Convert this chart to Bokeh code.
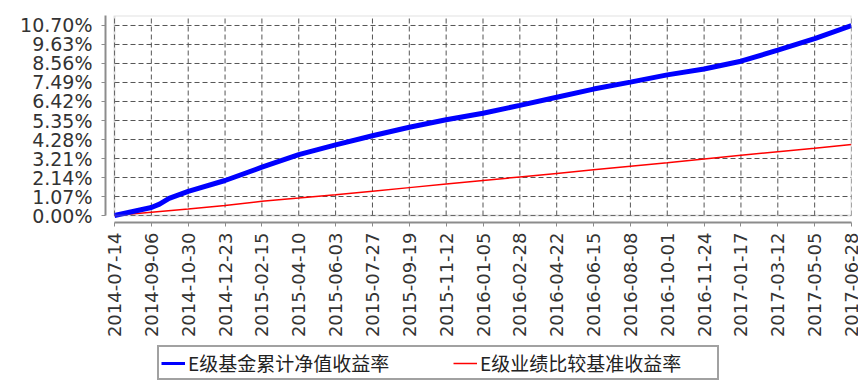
import math
import numpy as np
from bokeh.plotting import figure
from bokeh.layouts import column
from bokeh.models import (FixedTicker, PrintfTickFormatter, DatetimeTickFormatter,
                          Range1d, BoxAnnotation, Legend, LegendItem)
from bokeh.embed import file_html
from bokeh.resources import INLINE

# ---------------- data ----------------
tick_dates = ["2014-07-14", "2014-09-06", "2014-10-30", "2014-12-23", "2015-02-15",
              "2015-04-10", "2015-06-03", "2015-07-27", "2015-09-19", "2015-11-12",
              "2016-01-05", "2016-02-28", "2016-04-22", "2016-06-15", "2016-08-08",
              "2016-10-01", "2016-11-24", "2017-01-17", "2017-03-12", "2017-05-05",
              "2017-06-28"]
y_ticks = [0.00, 1.07, 2.14, 3.21, 4.28, 5.35, 6.42, 7.49, 8.56, 9.63, 10.70]

fund_dates = ["2014-07-14", "2014-09-06", "2014-09-18", "2014-10-02", "2014-10-30",
              "2014-12-23", "2015-02-15", "2015-04-10", "2015-06-03", "2015-07-27",
              "2015-09-19", "2015-11-12", "2016-01-05", "2016-02-28", "2016-04-22",
              "2016-06-15", "2016-08-08", "2016-10-01", "2016-11-24", "2017-01-17",
              "2017-03-12", "2017-05-05", "2017-06-28"]
fund_ret = [0.00, 0.45, 0.64, 0.96, 1.36, 1.97, 2.72, 3.43, 3.98, 4.49, 4.97, 5.39,
            5.76, 6.20, 6.66, 7.12, 7.51, 7.92, 8.25, 8.69, 9.31, 9.96, 10.70]

bench_dates = tick_dates
bench_ret = [0.00, 0.19, 0.36, 0.57, 0.80, 0.98, 1.17, 1.37, 1.57, 1.77, 1.97,
             2.17, 2.37, 2.57, 2.77, 2.97, 3.18, 3.39, 3.59, 3.79, 4.00]

fund_label = "E级基金累计净值收益率"
bench_label = "E级业绩比较基准收益率"

FUND_COLOR = "#0000ff"
BENCH_COLOR = "#ff0000"


def to_ms(ds):
    return np.array(ds, dtype="datetime64[ms]").astype("int64").astype(float)


tick_ms = to_ms(tick_dates)
fund_ms = to_ms(fund_dates)
bench_ms = to_ms(bench_dates)

DAY = 86400000.0
x0, x1 = tick_ms[0], tick_ms[-1]
x_start = x0 - 13.2 * DAY
y_end = y_ticks[-1] + 0.563
y_start = -0.394

p = figure(width=858, height=345, x_axis_type="datetime",
           x_range=Range1d(x_start, x1), y_range=Range1d(y_start, y_end),
           output_backend="svg", toolbar_location=None,
           min_border_left=105, min_border_right=7, min_border_top=15,
           min_border_bottom=123)
p.outline_line_color = None
p.background_fill_color = "white"
p.border_fill_color = "white"
p.xgrid.visible = False
p.ygrid.visible = False

# grid lines restricted to the inner box
grid_color = "#555555"
p.segment(x0=tick_ms, y0=[0] * len(tick_ms), x1=tick_ms, y1=[y_end] * len(tick_ms),
          line_color=grid_color, line_width=1, line_dash="5 3")
p.segment(x0=[x0] * len(y_ticks), y0=y_ticks, x1=[x1] * len(y_ticks), y1=y_ticks,
          line_color=grid_color, line_width=1, line_dash="5 3")

p.line(bench_ms, bench_ret, line_color=BENCH_COLOR, line_width=1.5)
p.line(fund_ms, fund_ret, line_color=FUND_COLOR, line_width=5)

box = BoxAnnotation(left=x0, right=x1, bottom=0, fill_alpha=0,
                    line_color="#999999", line_width=2)
p.add_layout(box)

axis_color = "#8c8c8c"
label_color = "#333333"

xa = p.xaxis[0]
xa.ticker = FixedTicker(ticks=list(tick_ms))
fmt = "%Y-%m-%d"
xa.formatter = DatetimeTickFormatter(milliseconds=fmt, seconds=fmt, minsec=fmt,
                                     minutes=fmt, hourmin=fmt, hours=fmt, days=fmt,
                                     months=fmt, years=fmt)
xa.major_label_orientation = math.pi / 2
xa.bounds = (x0, x1)
xa.axis_line_color = axis_color
xa.axis_line_width = 2
xa.major_tick_line_color = axis_color
xa.major_tick_in = 0
xa.major_tick_out = 4
xa.minor_tick_line_color = None
xa.major_label_standoff = 6
xa.major_label_text_font = "DejaVu Sans"
xa.major_label_text_font_size = "18px"
xa.major_label_text_color = label_color

ya = p.yaxis[0]
ya.ticker = FixedTicker(ticks=y_ticks)
ya.formatter = PrintfTickFormatter(format="%.2f%%")
ya.bounds = (0, y_end)
ya.axis_line_color = axis_color
ya.axis_line_width = 2
ya.major_tick_line_color = axis_color
ya.major_tick_in = 0
ya.major_tick_out = 4
ya.minor_tick_line_color = None
ya.major_label_standoff = 9
ya.major_label_text_font = "DejaVu Sans"
ya.major_label_text_font_size = "19px"
ya.major_label_text_color = label_color

# ---------------- legend strip ----------------
lg = figure(width=858, height=36, x_range=Range1d(0, 1), y_range=Range1d(0, 1),
            output_backend="svg", toolbar_location=None,
            x_axis_location=None, y_axis_location=None,
            min_border_left=105, min_border_top=0, min_border_right=7,
            min_border_bottom=0)
lg.outline_line_color = None
lg.xgrid.visible = False
lg.ygrid.visible = False
lr_fund = lg.line(x=[np.nan], y=[np.nan], line_color=FUND_COLOR, line_width=3)
lr_bench = lg.line(x=[np.nan], y=[np.nan], line_color=BENCH_COLOR, line_width=1.5)

legend = Legend(items=[LegendItem(label=fund_label, renderers=[lr_fund]),
                       LegendItem(label=bench_label, renderers=[lr_bench])],
                orientation="horizontal", location=(52, 1),
                border_line_color="#444444", border_line_width=2,
                background_fill_color="white", background_fill_alpha=1,
                padding=2, spacing=30, margin=0,
                glyph_width=24, glyph_height=20, label_height=20,
                label_width=235, label_standoff=3,
                label_text_font="Noto Sans CJK SC", label_text_font_size="19px",
                label_text_color="#222222")
lg.add_layout(legend)

layout = column(p, lg, spacing=0)
open("out.html", "w").write(file_html(layout, INLINE))
